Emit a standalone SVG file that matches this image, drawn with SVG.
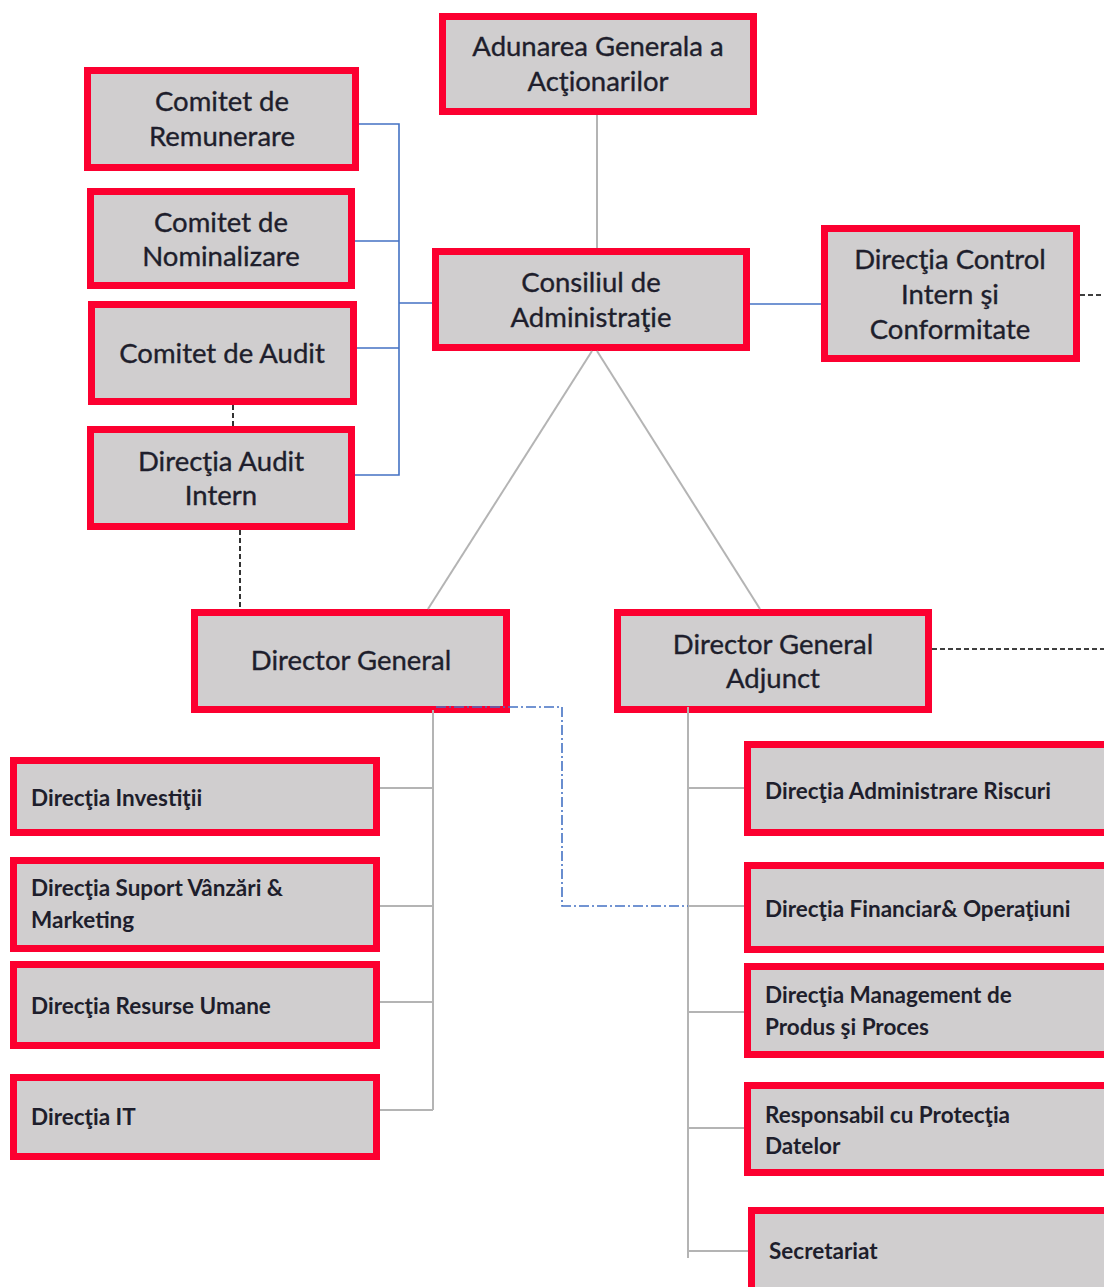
<svg xmlns="http://www.w3.org/2000/svg" width="1104" height="1287" viewBox="0 0 1104 1287">
<style>
.box{fill:#d0cecf;stroke:#fc0030;stroke-width:7}
.t{font-family:Lato,"Liberation Sans",sans-serif;font-size:27.5px;fill:#1e1e2c;stroke:#1e1e2c;stroke-width:0.35;text-anchor:middle}
.s{font-family:Lato,"Liberation Sans",sans-serif;font-size:22.5px;font-weight:bold;fill:#1e1e2c}
.g{stroke:#b4b4b4;stroke-width:2;fill:none}
.b{stroke:#4472c4;stroke-width:1.6;fill:none}
.d{stroke:#000;stroke-width:1.6;stroke-dasharray:5,3;fill:none}
.dd{stroke:#4472c4;stroke-width:1.6;stroke-dasharray:10,3,2,3;fill:none}
</style>
<rect width="1104" height="1287" fill="#fff"/>
<g id="n-adunarea"><rect class="box" x="442.5" y="16.5" width="311" height="95"/><text class="t" x="598" y="56">Adunarea Generala a</text><text class="t" x="598" y="91">Acţionarilor</text></g>
<g id="n-remunerare"><rect class="box" x="87.5" y="70.5" width="268" height="97"/><text class="t" x="222" y="111">Comitet de</text><text class="t" x="222" y="146">Remunerare</text></g>
<g id="n-nominalizare"><rect class="box" x="90.5" y="191.5" width="261" height="94"/><text class="t" x="221" y="232">Comitet de</text><text class="t" x="221" y="266">Nominalizare</text></g>
<g id="n-audit"><rect class="box" x="91.5" y="304.5" width="262" height="97"/><text class="t" x="222" y="363">Comitet de Audit</text></g>
<g id="n-auditintern"><rect class="box" x="90.5" y="429.5" width="261" height="97"/><text class="t" x="221" y="471">Direcţia Audit</text><text class="t" x="221" y="505">Intern</text></g>
<g id="n-consiliul"><rect class="box" x="435.5" y="251.5" width="311" height="96"/><text class="t" x="591" y="292">Consiliul de</text><text class="t" x="591" y="327">Administraţie</text></g>
<g id="n-control"><rect class="box" x="824.5" y="228.5" width="252" height="130"/><text class="t" x="950" y="269">Direcţia Control</text><text class="t" x="950" y="304">Intern şi</text><text class="t" x="950" y="339">Conformitate</text></g>
<g id="n-dg"><rect class="box" x="194.5" y="612.5" width="312" height="97"/><text class="t" x="351" y="670">Director General</text></g>
<g id="n-dga"><rect class="box" x="617.5" y="612.5" width="311" height="97"/><text class="t" x="773" y="654">Director General</text><text class="t" x="773" y="688">Adjunct</text></g>
<g id="n-investitii"><rect class="box" x="13.5" y="760.5" width="363" height="72"/><text class="s" x="31" y="806">Direcţia Investiţii</text></g>
<g id="n-suport"><rect class="box" x="13.5" y="860.5" width="363" height="88"/><text class="s" x="31" y="896">Direcţia Suport Vânzări &amp;</text><text class="s" x="31" y="928">Marketing</text></g>
<g id="n-resurse"><rect class="box" x="13.5" y="964.5" width="363" height="81"/><text class="s" x="31" y="1014">Direcţia Resurse Umane</text></g>
<g id="n-it"><rect class="box" x="13.5" y="1077.5" width="363" height="79"/><text class="s" x="31" y="1125">Direcţia IT</text></g>
<g id="n-riscuri"><rect class="box" x="747.5" y="744.5" width="370" height="88"/><text class="s" x="765" y="799">Direcţia Administrare Riscuri</text></g>
<g id="n-financiar"><rect class="box" x="747.5" y="865.5" width="370" height="84"/><text class="s" x="765" y="917">Direcţia Financiar&amp; Operaţiuni</text></g>
<g id="n-management"><rect class="box" x="747.5" y="966.5" width="370" height="88"/><text class="s" x="765" y="1003">Direcţia Management de</text><text class="s" x="765" y="1035">Produs şi Proces</text></g>
<g id="n-responsabil"><rect class="box" x="747.5" y="1085.5" width="370" height="87"/><text class="s" x="765" y="1123">Responsabil cu Protecţia</text><text class="s" x="765" y="1154">Datelor</text></g>
<g id="n-secretariat"><rect class="box" x="751.5" y="1210.5" width="370" height="90"/><text class="s" x="769" y="1259">Secretariat</text></g>
<g id="connectors">
<line class="g" x1="597" y1="115" x2="597" y2="248"/>
<line class="g" x1="592" y1="351" x2="428" y2="609"/>
<line class="g" x1="597" y1="351" x2="760" y2="609"/>
<line class="b" x1="750" y1="304" x2="821" y2="304"/>
<path class="b" d="M359 124H399V475H355M355 241H399M357 348H399M399 303H432"/>
<line class="d" x1="233" y1="405" x2="233" y2="426"/>
<line class="d" x1="240" y1="530" x2="240" y2="609"/>
<line class="d" x1="1080" y1="295" x2="1104" y2="295"/>
<line class="d" x1="932" y1="649" x2="1104" y2="649"/>
<path class="g" d="M433 710V1110M380 788H433M380 906H433M380 1002H433M380 1110H433"/>
<path class="g" d="M688 707V1258M688 788H744M688 906H744M688 1012H744M688 1128H744M688 1251H748"/>
<path class="dd" d="M436 707H562V906H688"/>
</g>
</svg>
